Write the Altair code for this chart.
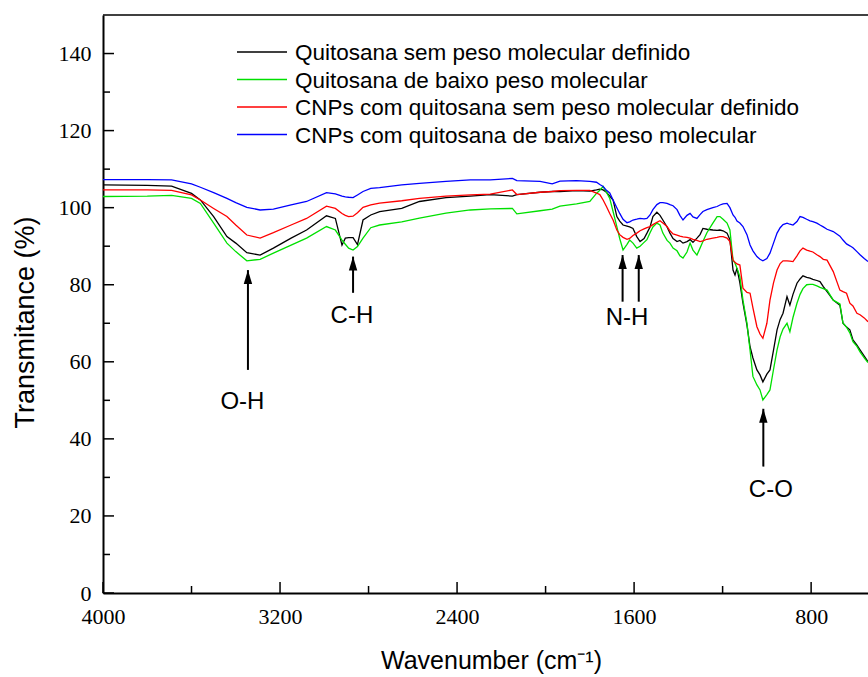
import altair as alt
import pandas as pd

# ---------------- data ----------------
wavenumber = [4000, 3800, 3690, 3600, 3560, 3500, 3440, 3400, 3350, 3290, 3230, 3150, 3080, 2990, 2950,
              2920, 2905, 2890, 2870, 2850, 2825, 2790, 2750, 2650, 2570, 2450, 2340, 2250, 2150, 2130,
              2025, 1970, 1935, 1860, 1800, 1770, 1755, 1740, 1725, 1710, 1695, 1678, 1665, 1650, 1632,
              1620, 1605, 1588, 1573, 1555, 1542, 1528, 1515, 1497, 1483, 1470, 1451, 1438, 1424, 1406,
              1393, 1379, 1361, 1347, 1334, 1316, 1302, 1289, 1271, 1244, 1225, 1212, 1198, 1180, 1167,
              1153, 1144, 1135, 1122, 1108, 1090, 1076, 1063, 1045, 1031, 1018, 1000, 986, 970, 954,
              940, 927, 909, 896, 882, 864, 850, 837, 820, 805, 792, 774, 760, 745, 728,
              700, 670, 656, 640, 625, 611, 593, 579, 560, 543]

quitosana_sem = [105.9, 105.8, 105.6, 103.7, 102.0, 97.7, 92.5, 90.8, 88.3, 87.7, 89.5, 92.1, 94.2, 97.9, 97.2,
                 90.3, 92.1, 92.2, 92.2, 90.4, 96.8, 98.1, 99.0, 99.8, 101.6, 102.6, 103.0, 103.4, 103.0, 103.4,
                 104.0, 104.2, 104.2, 104.4, 104.3, 104.6, 104.8, 104.6, 104.0, 103.0, 102.0, 97.7, 96.5, 95.5, 95.2,
                 95.0, 94.6, 92.5, 91.2, 92.0, 93.4, 95.0, 97.7, 98.8, 98.0, 96.8, 95.0, 93.4, 92.0, 91.2,
                 91.5, 90.8, 91.2, 91.7, 91.0, 92.1, 93.0, 94.6, 94.4, 94.2, 94.1, 94.2, 94.0, 93.4, 91.7,
                 83.8, 82.5, 84.3, 80.5, 75.2, 69.5, 63.9, 61.0, 57.9, 56.6, 54.8, 56.8, 57.9, 63.0, 68.3,
                 71.0, 72.6, 76.9, 74.7, 77.5, 80.4, 81.5, 82.3, 81.9, 81.7, 81.4, 81.1, 80.8, 79.5, 78.2,
                 76.0, 74.7, 70.0, 69.0, 68.3, 65.7, 64.3, 63.1, 61.5, 60.0]

quitosana_baixo = [102.9, 103.0, 103.2, 102.4, 101.1, 96.0, 90.8, 88.6, 86.2, 86.6, 88.2, 90.3, 92.1, 95.1, 94.2,
                   91.6, 90.5, 89.5, 89.0, 89.9, 92.1, 94.8, 95.5, 96.3, 97.3, 98.6, 99.4, 99.7, 99.8, 98.4,
                   99.2, 99.6, 100.4, 101.0, 101.6, 103.7, 104.5, 105.5, 104.0, 102.4, 99.0, 95.1, 92.0, 89.0, 90.5,
                   91.6, 90.8, 89.5, 90.0, 91.0, 91.7, 93.5, 95.0, 96.0, 95.5, 93.4, 91.5, 90.8, 89.5, 88.8,
                   87.5, 86.9, 88.5, 90.8, 89.0, 87.7, 89.5, 91.2, 93.5, 96.0, 97.7, 97.7, 97.0, 96.0, 94.2,
                   86.4, 85.6, 84.3, 82.1, 76.0, 70.0, 63.0, 56.2, 54.0, 52.7, 50.1, 51.5, 52.7, 58.0, 63.1,
                   66.5, 68.5, 70.0, 67.8, 71.5, 75.2, 77.5, 79.0, 80.0, 80.1, 80.1, 79.7, 79.3, 79.0, 78.6,
                   76.0, 75.0, 70.0, 69.0, 67.5, 65.2, 64.0, 62.6, 61.0, 59.8]

cnps_sem = [104.6, 104.6, 104.5, 103.3, 102.0, 99.8, 97.7, 95.5, 92.9, 92.1, 93.5, 95.5, 97.2, 100.4, 99.8,
            98.5, 98.0, 97.7, 97.8, 98.7, 100.1, 100.7, 101.2, 101.8, 102.4, 103.0, 103.3, 103.5, 104.6, 103.4,
            104.0, 104.2, 104.4, 104.5, 104.5, 103.8, 103.4, 102.0, 100.3, 98.5, 96.8, 94.2, 93.0, 92.3, 91.8,
            92.0, 92.8, 93.4, 94.0, 94.5, 94.8, 95.1, 95.6, 96.2, 96.6, 96.0, 95.1, 94.0, 93.2, 92.9,
            92.6, 92.4, 92.3, 92.1, 91.8, 91.5, 91.2, 91.4, 91.8, 92.1, 92.3, 92.5, 92.5, 92.1, 91.2,
            86.4, 85.8, 85.4, 85.1, 79.1, 78.0, 77.8, 74.0, 69.1, 67.2, 66.1, 70.0, 76.0, 80.5, 83.8,
            85.5, 86.2, 86.2, 86.1, 86.0, 87.5, 88.8, 89.5, 89.0, 88.7, 88.5, 87.8, 87.3, 86.6, 86.4,
            83.4, 78.6, 78.2, 77.8, 75.2, 74.5, 72.6, 72.2, 71.4, 70.4]

cnps_baixo = [107.3, 107.3, 107.2, 106.2, 105.3, 103.9, 102.4, 101.3, 100.1, 99.4, 99.6, 100.7, 101.6, 103.9, 103.6,
              103.0, 102.8, 102.7, 102.6, 103.3, 104.2, 105.0, 105.2, 105.9, 106.3, 106.8, 107.2, 107.2, 107.6, 107.0,
              106.8, 106.2, 106.9, 107.0, 106.8, 106.6, 106.0, 105.5, 104.5, 103.8, 102.0, 100.0, 98.5, 97.0, 96.1,
              96.3, 96.8, 97.0, 97.2, 97.1, 97.2, 98.1, 99.5, 100.8, 101.3, 101.3, 101.1, 100.8, 100.5, 99.5,
              98.0, 96.8, 98.0, 98.5, 97.6, 97.2, 98.2, 99.0, 99.5, 100.0, 100.3, 100.7, 101.0, 101.1, 100.0,
              98.1, 97.5, 96.5, 96.0, 95.1, 93.0, 90.3, 88.8, 87.3, 86.6, 86.2, 86.8, 88.2, 90.8, 93.4,
              94.8, 95.6, 96.0, 95.7, 95.5, 96.4, 97.7, 97.5, 97.0, 96.6, 96.4, 96.0, 95.5, 95.0, 94.4,
              93.8, 92.6, 91.6, 90.6, 90.1, 89.6, 88.6, 87.8, 86.8, 86.0]

series_names = ["Quitosana sem peso molecular definido",
                "Quitosana de baixo peso molecular",
                "CNPs com quitosana sem peso molecular definido",
                "CNPs com quitosana de baixo peso molecular"]
series_values = [quitosana_sem, quitosana_baixo, cnps_sem, cnps_baixo]
series_colors = ["#000000", "#00e000", "#ff0000", "#0000ff"]

x_major = [4000, 3200, 2400, 1600, 800]
x_minor = [3600, 2800, 2000, 1200]
y_major = [0, 20, 40, 60, 80, 100, 120, 140]
y_minor = [10, 30, 50, 70, 90, 110, 130]

arrow_wn = [3345, 2870, 1652, 1579, 1016]
arrow_head = [83.8, 87.3, 87.7, 87.7, 47.8]
arrow_tail = [57.9, 77.9, 75.6, 75.6, 32.8]

label_text = ["O-H", "C-H", "N-H", "C-O"]
label_wn = [3370, 2875, 1632, 982]
label_val = [49.6, 71.9, 71.4, 26.7]

# ---------------- layout ----------------
W, H = 765, 578
SANS = "Liberation Sans"
SERIF = "Liberation Serif"

rows = []
for name, vals in zip(series_names, series_values):
    for w, v in zip(wavenumber, vals):
        rows.append({"wn": w, "val": v, "series": name})
df = pd.DataFrame(rows)

xs = alt.Scale(domain=[4000, 543], nice=False, zero=False)
ys = alt.Scale(domain=[0, 150], nice=False, zero=False)

x_axis = alt.Axis(values=x_major, format="d", ticks=False, tickSize=0, grid=False,
                  labelFont=SERIF, labelFontSize=22, labelColor="black", labelPadding=13,
                  labelFlush=False, labelOverlap=False,
                  domainColor="black", domainWidth=2,
                  title="Wavenumber (cm⁻¹)", titleFont=SANS, titleFontSize=25,
                  titleFontWeight="normal", titleColor="black",
                  titleX=388, titleY=75, titleAlign="center", titleBaseline="alphabetic")
y_axis = alt.Axis(values=y_major, format="d", ticks=False, tickSize=0, grid=False,
                  labelFont=SERIF, labelFontSize=22, labelColor="black", labelPadding=12,
                  labelFlush=False, labelOverlap=False,
                  domainColor="black", domainWidth=2,
                  title="Transmitance (%)", titleFont=SANS, titleFontSize=27,
                  titleFontWeight="normal", titleColor="black", titleAngle=270,
                  titleX=-70, titleY=307, titleAlign="center", titleBaseline="alphabetic")

lines = alt.Chart(df).mark_line(strokeWidth=1.3, clip=True).encode(
    x=alt.X("wn:Q", scale=xs, axis=x_axis),
    y=alt.Y("val:Q", scale=ys, axis=y_axis),
    color=alt.Color("series:N", scale=alt.Scale(domain=series_names, range=series_colors), legend=None),
    detail="series:N",
)

# inward ticks
def yticks(vals, length):
    return alt.Chart(pd.DataFrame({"val": vals})).mark_rule(color="black", strokeWidth=1.5).encode(
        y=alt.Y("val:Q", scale=ys, axis=y_axis), x=alt.value(0), x2=alt.value(length))

def xticks(vals, length):
    return alt.Chart(pd.DataFrame({"wn": vals})).mark_rule(color="black", strokeWidth=1.5).encode(
        x=alt.X("wn:Q", scale=xs, axis=x_axis), y=alt.value(H), y2=alt.value(H - length))

top_border = alt.Chart(pd.DataFrame({"a": [0]})).mark_rule(color="black", strokeWidth=1.5).encode(
    x=alt.value(0), x2=alt.value(W), y=alt.value(0))

arrows_df = pd.DataFrame({"wn": arrow_wn, "head": arrow_head, "tail": arrow_tail})
shafts = alt.Chart(arrows_df).mark_rule(color="black", strokeWidth=2).encode(
    x=alt.X("wn:Q", scale=xs, axis=x_axis),
    y=alt.Y("tail:Q", scale=ys, axis=y_axis), y2="head:Q")
heads = alt.Chart(arrows_df).mark_point(shape="M0,0L0.6,2L-0.6,2Z", size=196, filled=True,
                                        color="black", opacity=1, strokeWidth=0).encode(
    x=alt.X("wn:Q", scale=xs, axis=x_axis),
    y=alt.Y("head:Q", scale=ys, axis=y_axis))

labels_df = pd.DataFrame({"wn": label_wn, "val": label_val, "txt": label_text})
labels = alt.Chart(labels_df).mark_text(font=SANS, fontSize=24, color="black",
                                        align="center", baseline="middle").encode(
    x=alt.X("wn:Q", scale=xs, axis=x_axis),
    y=alt.Y("val:Q", scale=ys, axis=y_axis),
    text="txt:N")

# legend drawn as rules + text
legend_layers = []
row_y = [37, 64.5, 92, 119.5]
for name, col, ry in zip(series_names, series_colors, row_y):
    d = pd.DataFrame({"name": [name]})
    legend_layers.append(alt.Chart(d).mark_rule(color=col, strokeWidth=1.5).encode(
        x=alt.value(134), x2=alt.value(184), y=alt.value(ry)))
    legend_layers.append(alt.Chart(d).mark_text(font=SANS, fontSize=22.5, color="black",
                                                align="left", baseline="middle").encode(
        x=alt.value(192), y=alt.value(ry + 1), text="name:N"))

chart = alt.layer(
    lines,
    yticks(y_major, 11), yticks(y_minor, 7),
    xticks(x_major, 11), xticks(x_minor, 7),
    top_border, shafts, heads, labels,
    *legend_layers,
).properties(
    width=W, height=H,
    autosize=alt.AutoSizeParams(type="none"),
    padding={"left": 103, "top": 15, "right": 0, "bottom": 84},
    background="white",
).configure_view(stroke=None)

chart.save("out.html", embed_options={"renderer": "svg", "actions": False})
